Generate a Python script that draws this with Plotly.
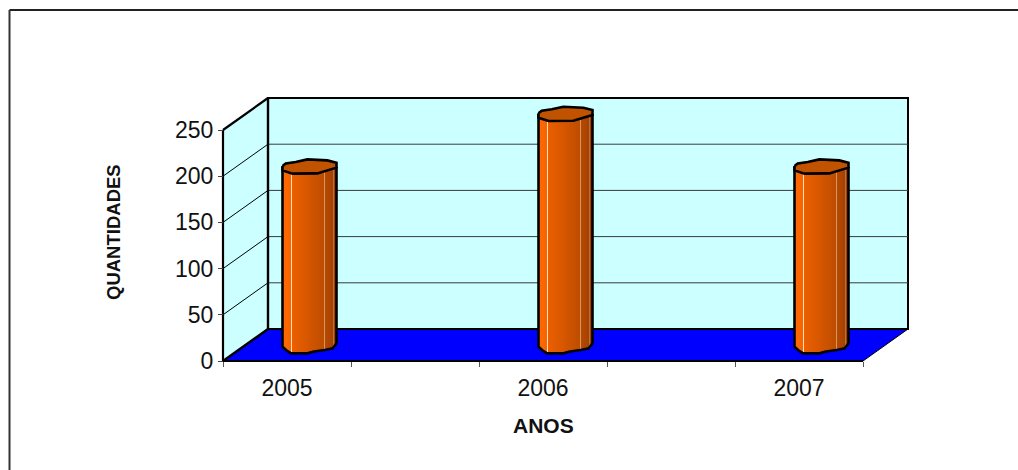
import numpy as np
import plotly.graph_objects as go

# ---------- data ----------
years = ["2005", "2006", "2007"]
year_slots = [0.5, 2.5, 4.5]      # the axis has five equal slots; years use slots 1, 3, 5
quantities = [193, 250, 193]
value_ticks = [0, 50, 100, 150, 200, 250]

# ---------- pseudo-3D geometry (axis units) ----------
W, H = 1018, 470
X0, Y0 = 223, 361            # pixel position of the front-left origin
PX_X, PX_Y = 128.0, 0.924    # pixels per slot / per unit of value
DX, DY = 45 / PX_X, 32 / PX_Y  # depth offset of the back wall
SLOTS = 5
VMAX = 250
CYL_W = 54 / PX_X
CYL_RY = 7 / PX_Y
STEP = 1 / PX_X

# faceted cap and foot outlines of the cylinder, as fractions of its radii
cap_dx = [-1, -.88, -.51, -.08, .66, 1, 1, .66, .29, -.63, -1, -1]
cap_dy = [.1, .47, .67, 1.04, .9, .57, -.14, -.53, -.96, -1, -.53, .1]
foot_dx = [-1, -.87, -.68, -.07, .12, .61, .86, 1]
foot_dy = [-.24, -.71, -1.19, -1.19, -.95, -.68, -.48, .24]

stops = [(0, (255, 106, 0)), (8, (250, 100, 0)), (9, (255, 225, 190)), (10, (235, 96, 0)),
         (26, (214, 86, 0)), (41, (190, 78, 0)), (42, (214, 150, 100)), (43, (184, 74, 0)),
         (50, (165, 66, 0)), (51, (190, 110, 60)), (52, (160, 64, 0)), (54, (150, 60, 0))]


def slice_color(i):
    xs = [s[0] for s in stops]
    return "rgb(%d,%d,%d)" % tuple(np.interp(i, xs, [s[1][k] for s in stops]) for k in range(3))


# ---------- cylinder bodies as bars ----------
bar_x, bar_base, bar_h, bar_col = [], [], [], []
n_slices = 54
for slot, q in zip(year_slots, quantities):
    cx = slot + DX / 2
    for i in range(n_slices):
        off = (i + 0.5) / n_slices * 2 - 1
        b = DY / 2 + CYL_RY * np.interp(off, foot_dx, foot_dy)
        bar_x.append(cx + off * CYL_W / 2)
        bar_base.append(b)
        bar_h.append(q + DY / 2 - b)
        bar_col.append(slice_color(i))

fig = go.Figure()
fig.add_bar(x=bar_x, y=bar_h, base=bar_base, width=STEP * 1.05,
            marker=dict(color=bar_col, line=dict(width=0)), hoverinfo="skip", showlegend=False)

# outlines and top caps
for slot, q in zip(year_slots, quantities):
    cx = slot + DX / 2
    top = q + DY / 2
    ox = cx + np.array(foot_dx) * CYL_W / 2
    oy = DY / 2 + np.array(foot_dy) * CYL_RY
    fig.add_scatter(x=[cx - CYL_W / 2, *ox, cx + CYL_W / 2],
                    y=[top, *oy, top], mode="lines",
                    line=dict(color="black", width=2.6), hoverinfo="skip", showlegend=False)
    fig.add_scatter(x=cx + np.array(cap_dx) * CYL_W / 2, y=top + np.array(cap_dy) * CYL_RY,
                    mode="lines", fill="toself", fillcolor="#C05200",
                    line=dict(color="black", width=2.6), hoverinfo="skip", showlegend=False)


def poly(points):
    return "M " + " L ".join(f"{x:.5f},{y:.5f}" for x, y in points) + " Z"


shapes = []
# side wall
shapes.append(dict(type="path", layer="below", xref="x", yref="y",
                   path=poly([(0, 0), (0, VMAX), (DX, VMAX + DY), (DX, DY)]),
                   fillcolor="#CCFFFF", line=dict(width=0)))
# back wall
shapes.append(dict(type="rect", layer="below", xref="x", yref="y",
                   x0=DX, x1=SLOTS + DX, y0=DY, y1=VMAX + DY,
                   fillcolor="#CCFFFF", line=dict(color="black", width=2)))
# gridlines on both walls
for v in value_ticks[1:-1]:
    shapes.append(dict(type="line", layer="below", xref="x", yref="y",
                       x0=DX, x1=SLOTS + DX, y0=v + DY, y1=v + DY,
                       line=dict(color="#3a3a3a", width=1)))
    shapes.append(dict(type="line", layer="below", xref="x", yref="y",
                       x0=0, x1=DX, y0=v, y1=v + DY,
                       line=dict(color="black", width=1)))
# floor
shapes.append(dict(type="path", layer="below", xref="x", yref="y",
                   path=poly([(0, 0), (SLOTS, 0), (SLOTS + DX, DY), (DX, DY)]),
                   fillcolor="#0000FF", line=dict(width=0)))
# heavier edges
edges = [((0, 0), (0, VMAX), 2.2), ((0, VMAX), (DX, VMAX + DY), 2.2), ((DX, DY), (DX, VMAX + DY), 2.4),
         ((0, 0), (DX, DY), 2.4), ((0, 0), (SLOTS, 0), 2), ((DX, DY), (SLOTS + DX, DY), 2.2),
         ((SLOTS, 0), (SLOTS + DX, DY), 1)]
for a, b, w in edges:
    shapes.append(dict(type="line", layer="below", xref="x", yref="y",
                       x0=a[0], y0=a[1], x1=b[0], y1=b[1], line=dict(color="black", width=w)))
# outer frame (top and left only are in view)
shapes.append(dict(type="line", xref="paper", yref="paper", x0=9.5 / W, x1=1, y0=1 - 10 / H, y1=1 - 10 / H,
                   line=dict(color="#222222", width=2)))
shapes.append(dict(type="line", xref="paper", yref="paper", x0=9.5 / W, x1=9.5 / W, y0=0, y1=1 - 10 / H,
                   line=dict(color="#333333", width=2)))

TXT = "#111111"
fig.update_layout(
    width=W, height=H, margin=dict(l=0, r=0, t=0, b=0),
    paper_bgcolor="white", plot_bgcolor="rgba(0,0,0,0)",
    barmode="overlay", showlegend=False, shapes=shapes,
    font=dict(family="Liberation Sans, Arial, sans-serif", color=TXT),
    xaxis=dict(domain=[0, 1], range=[-X0 / PX_X, (W - X0) / PX_X], anchor="free", position=(H - Y0) / H,
               tickmode="array", tickvals=year_slots, ticktext=years, ticks="", showgrid=False,
               zeroline=False, showline=False, tickfont=dict(size=23, color=TXT), ticklabelstandoff=11,
               minor=dict(tickmode="array", tickvals=list(range(SLOTS + 1)), ticks="outside",
                          ticklen=5, tickwidth=1, tickcolor="#555555", showgrid=False)),
    yaxis=dict(domain=[0, 1], range=[-(H - Y0) / PX_Y, Y0 / PX_Y], anchor="free", position=X0 / W,
               tickmode="array", tickvals=value_ticks, ticks="outside", ticklen=5, tickwidth=1,
               tickcolor="#444444", showgrid=False, zeroline=False, showline=False,
               tickfont=dict(size=23, color=TXT)),
    annotations=[
        dict(text="<b>ANOS</b>", xref="paper", yref="paper", x=543 / W, y=1 - 425 / H, showarrow=False,
             xanchor="center", yanchor="middle", font=dict(size=21, color=TXT)),
        dict(text="<b>QUANTIDADES</b>", xref="paper", yref="paper", x=113 / W, y=1 - 232 / H, showarrow=False,
             xanchor="center", yanchor="middle", textangle=-90, font=dict(size=18.5, color=TXT)),
    ],
)
fig.write_html("out.html", config=dict(displayModeBar=False),
               post_script="document.body.style.margin='0';document.body.style.overflow='hidden';")
